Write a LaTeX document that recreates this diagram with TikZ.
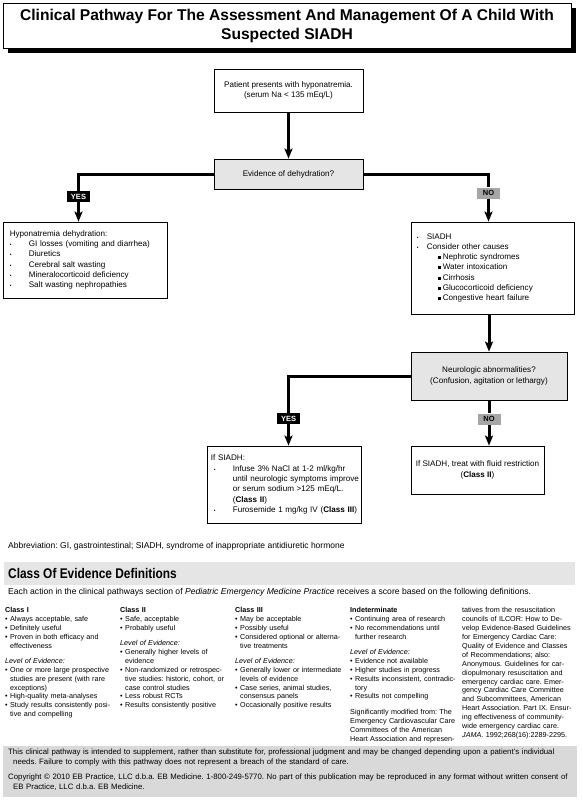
\documentclass[tikz,border=0pt]{standalone}
\usepackage{fontspec}
\setmainfont{Liberation Sans}
\newfontfamily\condfont{Liberation Sans}[FakeStretch=0.85]
\usetikzlibrary{arrows.meta,shadows}
\frenchspacing
\newcommand{\lbul}{\makebox[19pt][l]{\fontsize{5}{5}\selectfont\textbullet}}
\newcommand{\rbul}{\makebox[10pt][l]{\fontsize{5}{5}\selectfont\textbullet}}
\newcommand{\sqbul}{\makebox[5pt][l]{\raisebox{0.6pt}{\rule{3pt}{3pt}}}}
\newcommand{\bbul}{\hspace*{3pt}\makebox[19pt][l]{\fontsize{5}{5}\selectfont\textbullet}}
\newcommand{\bind}{\hspace*{22pt}}
\newcommand{\cpb}{\makebox[5pt][l]{\textbullet}}
\newcommand{\cpi}{\hspace*{5pt}}
\begin{document}
\frenchspacing
\begin{tikzpicture}[x=1pt,y=-1pt,
  box/.style={draw, line width=0.8pt, inner sep=0pt, font=\fontsize{8.1}{10.3}\selectfont},
  qbox/.style={box, fill=black!10, align=center},
  txt/.style={inner sep=0pt, align=left, text width=150pt, font=\fontsize{8.1}{10.3}\selectfont},
  conn/.style={line width=3pt},
  arr/.style={conn, -{Stealth[length=10pt,width=8pt,inset=2pt]}},
  yeslab/.style={fill=black, text=white, font={\fontsize{7.5}{8}\selectfont\bfseries}, minimum width=23pt, minimum height=11pt, inner sep=0pt},
  nolab/.style={yeslab, fill=black!35, text=black},
  small/.style={font=\fontsize{7.2}{8.9}\selectfont, align=left, text width=116pt, inner sep=0pt, anchor=north west}
]
\useasboundingbox (0,0) rectangle (581,800);
\fill[white] (0,0) rectangle (581,800);

% title
\node[draw, line width=0.8pt, fill=white, minimum width=568pt, minimum height=45pt, inner sep=0pt,
  drop shadow={shadow xshift=5pt, shadow yshift=-5pt, fill=black, opacity=1},
  align=center, font={\fontsize{15.6}{19}\selectfont\bfseries}] (title) at (287,25.5) {Clinical Pathway For The Assessment And Management Of A Child With\\Suspected SIADH};

% flowchart boxes
\node[box, align=center, minimum width=149pt, minimum height=43pt] (patient) at (288.5,90.5) {Patient presents with hyponatremia.\\(serum Na < 135 mEq/L)};
\node[qbox, minimum width=149pt, minimum height=30pt] (evid) at (288.5,174) {Evidence of dehydration?};

\node[box, minimum width=164pt, minimum height=76pt] (lbox) at (85,260) {};
\node[txt, anchor=west] (lboxt) at ([xshift=7pt]lbox.west) {Hyponatremia dehydration:\\
\lbul GI losses (vomiting and diarrhea)\\
\lbul Diuretics\\
\lbul Cerebral salt wasting\\
\lbul Mineralocorticoid deficiency\\
\lbul Salt wasting nephropathies};

\node[box, minimum width=163pt, minimum height=92pt] (rbox) at (492.5,268) {};
\node[txt, anchor=west] (rboxt) at ([xshift=6pt]rbox.west) {\rbul SIADH\\
\rbul Consider other causes\\
\hspace*{21pt}\sqbul Nephrotic syndromes\\
\hspace*{21pt}\sqbul Water intoxication\\
\hspace*{21pt}\sqbul Cirrhosis\\
\hspace*{21pt}\sqbul Glucocorticoid deficiency\\
\hspace*{21pt}\sqbul Congestive heart failure};

\node[qbox, minimum width=156pt, minimum height=48pt] (neuro) at (489,376) {Neurologic abnormalities?\\(Confusion, agitation or lethargy)};

\node[box, minimum width=154pt, minimum height=77pt] (lbb) at (284,484.5) {};
\node[txt, anchor=west] (lbbt) at ([xshift=4pt]lbb.west) {If SIADH:\\
\bbul Infuse 3\% NaCl at 1-2 ml/kg/hr\\
\bind until neurologic symptoms improve\\
\bind or serum sodium >125 mEq/L.\\
\bind (\textbf{Class II})\\
\bbul Furosemide 1 mg/kg IV (\textbf{Class III})};

\node[box, align=center, minimum width=133pt, minimum height=48pt] (rbb) at (477.5,470) {If SIADH, treat with fluid restriction\\(\textbf{Class II})};

% labels
\node[yeslab] (yes1) at (78.5,196.5) {YES};
\node[nolab] (no1) at (488.5,193) {NO};
\node[yeslab] (yes2) at (288.5,418.5) {YES};
\node[nolab] (no2) at (489,419) {NO};

% connectors
\draw[arr] (patient.south) -- (evid.north);
\draw[conn] (evid.west) -| (yes1.north);
\draw[arr] (yes1.south) -- (yes1.south |- lbox.north);
\draw[conn] (evid.east) -| (no1.north);
\draw[arr] (no1.south) -- (no1.south |- rbox.north);
\draw[arr] (neuro.north |- rbox.south) -- (neuro.north);
\draw[conn] (neuro.west) -| (yes2.north);
\draw[arr] (yes2.south) -- (yes2.south |- lbb.north);
\draw[conn] (neuro.south) -- (neuro.south |- no2.north);
\draw[arr] (no2.south) -- (no2.south |- rbb.north);

% abbreviation
\node[anchor=west, inner sep=0pt, font=\fontsize{8.5}{10}\selectfont] (abbr) at (8,546) {Abbreviation: GI, gastrointestinal; SIADH, syndrome of inappropriate antidiuretic hormone};

% class of evidence
\node[fill=black!10, minimum width=571pt, minimum height=23pt, inner sep=0pt] (cobar) at (289.5,573.5) {};
\node[anchor=west, inner sep=0pt, font={\fontsize{14}{14}\condfont\bfseries}] (cohead) at (8,573.5) {Class Of Evidence Definitions};
\node[anchor=west, inner sep=0pt, font=\fontsize{8.6}{10}\selectfont] (intro) at (8,592) {Each action in the clinical pathways section of \textit{Pediatric Emergency Medicine Practice} receives a score based on the following definitions.};

\node[small] (c1) at (5,607.4) {\textbf{Class I}\\
\cpb Always acceptable, safe\\
\cpb Definitely useful\\
\cpb Proven in both efficacy and\\
\cpi effectiveness\\[6pt]
\textit{Level of Evidence:}\\
\cpb One or more large prospective\\
\cpi studies are present (with rare\\
\cpi exceptions)\\
\cpb High-quality meta-analyses\\
\cpb Study results consistently posi-\\
\cpi tive and compelling};

\node[small] (c2) at (120,607.4) {\textbf{Class II}\\
\cpb Safe, acceptable\\
\cpb Probably useful\\[6pt]
\textit{Level of Evidence:}\\
\cpb Generally higher levels of\\
\cpi evidence\\
\cpb Non-randomized or retrospec-\\
\cpi tive studies: historic, cohort, or\\
\cpi case control studies\\
\cpb Less robust RCTs\\
\cpb Results consistently positive};

\node[small] (c3) at (235,607.4) {\textbf{Class III}\\
\cpb May be acceptable\\
\cpb Possibly useful\\
\cpb Considered optional or alterna-\\
\cpi tive treatments\\[6pt]
\textit{Level of Evidence:}\\
\cpb Generally lower or intermediate\\
\cpi levels of evidence\\
\cpb Case series, animal studies,\\
\cpi consensus panels\\
\cpb Occasionally positive results};

\node[small] (c4) at (350,607.4) {\textbf{Indeterminate}\\
\cpb Continuing area of research\\
\cpb No recommendations until\\
\cpi further research\\[6pt]
\textit{Level of Evidence:}\\
\cpb Evidence not available\\
\cpb Higher studies in progress\\
\cpb Results inconsistent, contradic-\\
\cpi tory\\
\cpb Results not compelling\\[7pt]
Significantly modified from: The\\
Emergency Cardiovascular Care\\
Committees of the American\\
Heart Association and represen-};

\node[small] (c5) at (462,607.4) {tatives from the resuscitation\\
councils of ILCOR: How to De-\\
velop Evidence-Based Guidelines\\
for Emergency Cardiac Care:\\
Quality of Evidence and Classes\\
of Recommendations; also:\\
Anonymous. Guidelines for car-\\
diopulmonary resuscitation and\\
emergency cardiac care. Emer-\\
gency Cardiac Care Committee\\
and Subcommittees, American\\
Heart Association. Part IX. Ensur-\\
ing effectiveness of community-\\
wide emergency cardiac care.\\
\textit{JAMA}. 1992;268(16):2289-2295.};

% footer
\node[fill=black!15, minimum width=574pt, minimum height=51pt, inner sep=0pt] (foot) at (290,771) {};
\node[anchor=north west, inner sep=0pt, align=left, text width=570pt, font=\fontsize{7.8}{10}\selectfont] (foot1) at (8,749) {This clinical pathway is intended to supplement, rather than substitute for, professional judgment and may be changed depending upon a patient's individual\\
\hspace*{5pt}needs. Failure to comply with this pathway does not represent a breach of the standard of care.};
\node[anchor=north west, inner sep=0pt, align=left, text width=570pt, font=\fontsize{7.8}{10}\selectfont] (foot2) at (8,774) {Copyright © 2010 EB Practice, LLC d.b.a. EB Medicine. 1-800-249-5770. No part of this publication may be reproduced in any format without written consent of\\
\hspace*{5pt}EB Practice, LLC d.b.a. EB Medicine.};
\end{tikzpicture}
\end{document}
